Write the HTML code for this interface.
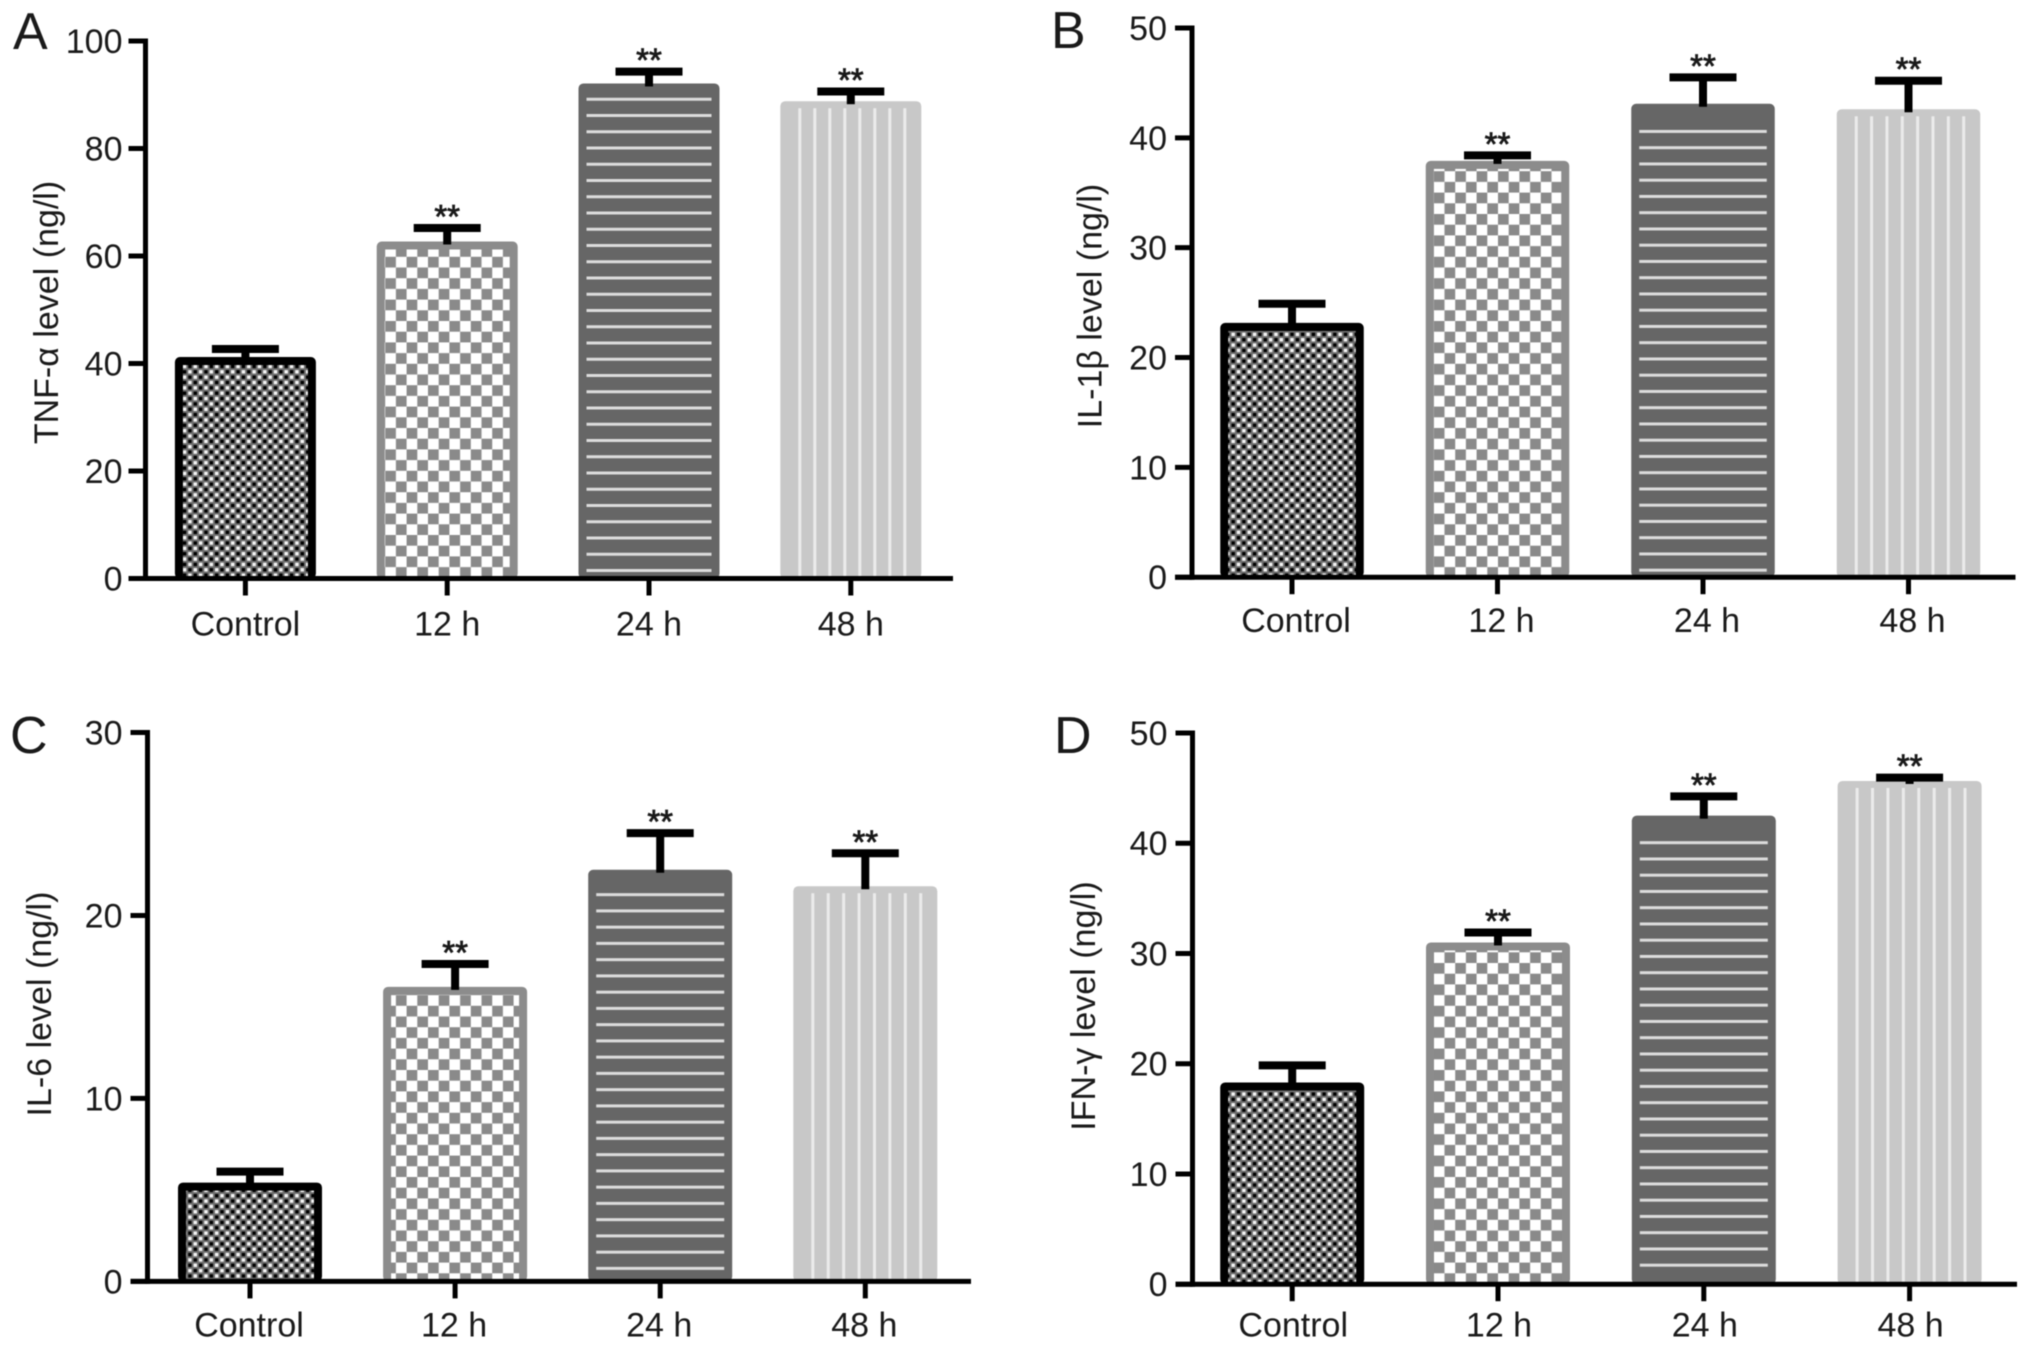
<!DOCTYPE html>
<html lang="en">
<head>
<meta charset="utf-8">
<title>Cytokine levels</title>
<style>
html,body{margin:0;padding:0;background:#fff;}
body{width:2032px;height:1350px;overflow:hidden;}
svg{display:block;filter:blur(0.6px);}
text{font-family:"Liberation Sans",sans-serif;fill:#1a1a1a;}
</style>
</head>
<body>
<svg id="chart" width="2032" height="1350" viewBox="0 0 2032 1350" xmlns="http://www.w3.org/2000/svg">
<defs id="defs"></defs>
</svg>
<script>
const categories = ['Control', '12 h', '24 h', '48 h'];
const significance = ['', '**', '**', '**'];

const ticksA = [0, 20, 40, 60, 80, 100];
const meansA = [41.2, 62.7, 92.1, 88.8];
const upperA = [42.7, 65.2, 94.3, 90.6];

const ticksB = [0, 10, 20, 30, 40, 50];
const meansB = [23.15, 37.9, 43.1, 42.6];
const upperB = [24.9, 38.4, 45.5, 45.2];

const ticksC = [0, 10, 20, 30];
const meansC = [5.4, 16.1, 22.5, 21.6];
const upperC = [6.0, 17.35, 24.5, 23.4];

const ticksD = [0, 10, 20, 30, 40, 50];
const meansD = [18.3, 31.0, 42.5, 45.65];
const upperD = [19.85, 31.9, 44.25, 45.95];

const panels = [
  {key:'a', letter:'A', lx:13, ly:49, title:'TNF-α level (ng/l)', tx:58, ty:312.5, means:meansA, upper:upperA, ticks:ticksA,
   axisX:145.5, top:41, zero:578.5, xEnd:953, c0:245.4, step:201.8, barW:141, labelY:635.5, labelDx:0, lineOffset:8, tickGap:23},
  {key:'b', letter:'B', lx:1051, ly:48, title:'IL-1β level (ng/l)', tx:1101.5, ty:306, means:meansB, upper:upperB, ticks:ticksB,
   axisX:1192, top:28, zero:577.2, xEnd:2015.5, c0:1292, step:205.5, barW:143.5, labelY:632, labelDx:4, lineOffset:7, tickGap:25},
  {key:'c', letter:'C', lx:10, ly:753, title:'IL-6 level (ng/l)', tx:51, ty:1004, means:meansC, upper:upperC, ticks:ticksC,
   axisX:147.5, top:732.5, zero:1281.4, xEnd:971, c0:250, step:205.1, barW:144, labelY:1336.5, labelDx:-1, lineOffset:13, tickGap:25},
  {key:'d', letter:'D', lx:1054, ly:753, title:'IFN-γ level (ng/l)', tx:1095, ty:1006, means:meansD, upper:upperD, ticks:ticksD,
   axisX:1192.5, top:733, zero:1284.2, xEnd:2017, c0:1292.2, step:205.8, barW:144, labelY:1336.5, labelDx:1, lineOffset:19, tickGap:25}
];

const NS = 'http://www.w3.org/2000/svg';
const svg = document.getElementById('chart');
const defs = document.getElementById('defs');

function make(tag, attrs, parent, txt) {
  const n = document.createElementNS(NS, tag);
  for (const k in attrs) n.setAttribute(k, attrs[k]);
  if (txt !== undefined) n.textContent = txt;
  parent.appendChild(n);
  return n;
}

const DOT = 10.7, CHECK = 21.4;

function dotPattern(id) {
  const p = make('pattern', {id:id, patternUnits:'userSpaceOnUse', width:DOT, height:DOT}, defs);
  const c = DOT / 2, s = 3.4, o = (c - s) / 2;
  make('rect', {width:DOT, height:DOT, fill:'#6e6e6e'}, p);
  make('rect', {x:o, y:o, width:s, height:s, fill:'#f4f4f4'}, p);
  make('rect', {x:c + o, y:c + o, width:s, height:s, fill:'#f4f4f4'}, p);
  make('rect', {x:c + o, y:o, width:s, height:s, fill:'#000'}, p);
  make('rect', {x:o, y:c + o, width:s, height:s, fill:'#000'}, p);
}
function checkPattern(id) {
  const p = make('pattern', {id:id, patternUnits:'userSpaceOnUse', width:CHECK, height:CHECK}, defs);
  make('rect', {width:CHECK, height:CHECK, fill:'#fff'}, p);
  make('rect', {x:0, y:0, width:CHECK/2, height:CHECK/2, fill:'#8a8a8a'}, p);
  make('rect', {x:CHECK/2, y:CHECK/2, width:CHECK/2, height:CHECK/2, fill:'#8a8a8a'}, p);
}
dotPattern('dots');
checkPattern('checks');

const barColors = ['#000000', '#8c8c8c', '#666666', '#c8c8c8'];

panels.forEach(function (pn) {
  const maxTick = pn.ticks[pn.ticks.length - 1];
  const yScale = function (v) { return pn.zero - v / maxTick * (pn.zero - pn.top); };
  const xScale = function (i) { return pn.c0 + i * pn.step; };

  const g = make('g', {}, svg);
  
  

  const letter = make('text', {x:pn.lx, y:pn.ly, 'font-size':52}, g, pn.letter);
  
  

  const title = make('text', {x:pn.tx, y:pn.ty, 'font-size':34, 'text-anchor':'middle',
    transform:'rotate(-90 ' + pn.tx + ' ' + pn.ty + ')'}, g, pn.title);
  
  

  categories.forEach(function (cat, i) {
    const cx = xScale(i);
    const yTop = yScale(pn.means[i]);
    const yCap = yScale(pn.upper[i]);
    const left = cx - pn.barW / 2;
    const h = pn.zero - yTop;

    const barG = make('g', {}, g);
    
    

    make('rect', {x:left, y:yTop, width:pn.barW, height:h, rx:5, fill:barColors[i]}, barG);

    if (i === 0) {
      make('rect', {x:left + 8, y:yTop + 8, width:pn.barW - 16, height:Math.max(0, h - 8), fill:'url(#dots)'}, barG);
    } else if (i === 1) {
      make('rect', {x:left + 8, y:yTop + 8, width:pn.barW - 16, height:Math.max(0, h - 8), fill:'url(#checks)'}, barG);
    } else if (i === 2) {
      for (let ly = pn.zero - pn.lineOffset; ly > yTop + 13; ly -= 16.25) {
        make('rect', {x:left + 8, y:ly - 1.5, width:pn.barW - 16, height:3, fill:'#dcdcdc'}, barG);
      }
    } else {
      for (let k = 0; k < 8; k++) {
        make('rect', {x:left + 18 + k * (pn.barW - 36 + 3) / 7.2, y:yTop + 7, width:3, height:Math.max(0, h - 7), fill:'#ebebeb'}, barG);
      }
    }

    const stem = make('line', {x1:cx, x2:cx, y1:yCap, y2:yTop + 3, stroke:'#000', 'stroke-width':8}, g);
    
    

    const cap = make('line', {x1:cx - 33.5, x2:cx + 33.5, y1:yCap, y2:yCap, stroke:'#000', 'stroke-width':8}, g);
    
    

    if (significance[i]) {
      const star = make('text', {x:cx, y:yCap, 'font-size':33, 'text-anchor':'middle', stroke:'#1a1a1a', 'stroke-width':0.8}, g, significance[i]);
      
      
    }

    const tick = make('line', {x1:cx, x2:cx, y1:pn.zero, y2:pn.zero + 17, stroke:'#000', 'stroke-width':5}, g);
    
    

    const lab = make('text', {x:cx + pn.labelDx, y:pn.labelY, 'font-size':34, 'text-anchor':'middle'}, g, cat);
    
    
  });

  const yAxis = make('line', {x1:pn.axisX, x2:pn.axisX, y1:pn.top - 2.5, y2:pn.zero + 2.5, stroke:'#000', 'stroke-width':5}, g);
  
  

  const xAxis = make('line', {x1:pn.axisX - 17, x2:pn.xEnd, y1:pn.zero, y2:pn.zero, stroke:'#000', 'stroke-width':5}, g);
  
  

  pn.ticks.forEach(function (t) {
    const y = yScale(t);
    const tk = make('line', {x1:pn.axisX - 17, x2:pn.axisX, y1:y, y2:y, stroke:'#000', 'stroke-width':5}, g);
    
    

    const lb = make('text', {x:pn.axisX - pn.tickGap, y:y + 12, 'font-size':34, 'text-anchor':'end'}, g, String(t));
    
    
  });
});
</script>
</body>
</html>
